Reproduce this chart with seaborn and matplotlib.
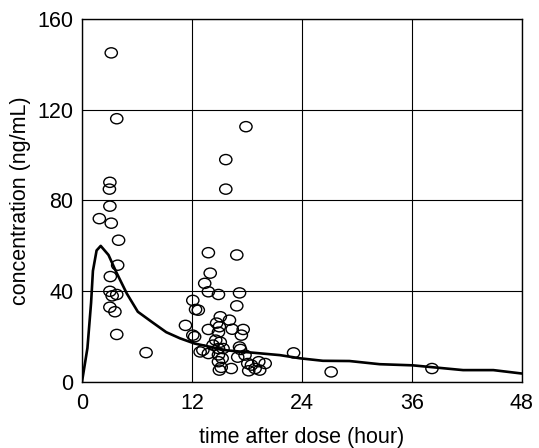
import numpy as np
import pandas as pd
import seaborn as sns
import matplotlib.pyplot as plt
from matplotlib.path import Path
from matplotlib.markers import MarkerStyle
from matplotlib.transforms import Affine2D

# observed concentrations (time in hour, concentration in ng/mL)
obs_time = [3.2, 3.8, 3.05, 3.0, 3.05, 1.9, 3.2, 4.0, 3.9, 3.1, 3.05, 3.8, 3.3, 3.05, 3.6, 3.8, 7.0,
            17.9, 15.7, 15.7, 23.1, 27.2, 38.2,
            13.8, 16.9, 14.0, 13.4, 13.8, 14.9, 17.2, 12.1, 16.9, 12.7, 12.4, 11.3, 12.1, 12.3,
            15.1, 16.1, 15.0, 13.8, 16.4, 17.6, 17.4, 14.9, 13.2, 13.8, 14.3, 14.9, 15.4, 17.2,
            17.3, 14.9, 15.0, 16.3, 18.1, 18.5, 18.9, 19.4, 20.0, 17.8, 19.3, 14.9, 15.1, 12.9,
            15.2, 14.6, 17.0, 18.2, 15.3, 14.7]
obs_conc = [145, 116, 88, 85, 77.5, 72, 70, 62.5, 51.5, 46.5, 40, 38.6, 38, 33, 31, 21, 13,
            112.5, 98, 85, 12.9, 4.5, 6,
            57, 56, 48, 43.5, 39.8, 38.6, 39.3, 36, 33.6, 31.7, 32, 25, 20.7, 20,
            28.8, 27.3, 24.4, 23.2, 23.3, 23.2, 20.7, 22, 14.1, 12.6, 16.3, 14.8, 14.8, 15.5,
            14.4, 9, 5.3, 6, 8.2, 7.5, 6, 5.3, 8.2, 11.9, 9, 12, 17.6, 13.3,
            6.5, 18.5, 11, 5, 10.5, 26]

# fitted curve
fit_time = [0, 0.6, 1.0, 1.2, 1.6, 2.05, 2.9, 3.8, 4.9, 6.1, 7.6, 9.2, 10.7, 12.3, 15.8,
            19.4, 21.6, 23.8, 26.3, 29.2, 32.5, 36.1, 41.6, 44.9, 48]
fit_conc = [0, 15, 35, 49, 58, 60, 56, 48, 39, 31, 26.6, 22, 19.3, 17, 14,
            12.7, 11.9, 10.5, 9.4, 9.3, 7.9, 7.4, 5.3, 5.3, 3.8]

obs = pd.DataFrame({"time": obs_time, "conc": obs_conc})
fit = pd.DataFrame({"time": fit_time, "conc": fit_conc})

sns.set_theme(style="white")
plt.rcParams['font.family'] = ['Liberation Sans', 'DejaVu Sans']

# slightly flattened open circle
ell = Path.unit_circle().transformed(Affine2D().scale(1.0, 0.83))
marker = MarkerStyle(ell)

fig = plt.figure(figsize=(5.39, 4.48), dpi=100)
ax = fig.add_axes([0.152, 0.147, 0.816, 0.811])

sns.lineplot(data=fit, x="time", y="conc", ax=ax, color="black", linewidth=1.9, zorder=3)
sns.scatterplot(data=obs, x="time", y="conc", ax=ax, marker=marker, s=78,
                facecolor="none", edgecolor="black", linewidth=1.0, zorder=4)

ax.set_xlim(0, 48)
ax.set_ylim(0, 160)
ax.set_xticks([0, 12, 24, 36, 48])
ax.set_yticks([0, 40, 80, 120, 160])
ax.grid(True, color="black", linewidth=0.8)
ax.set_axisbelow(True)
for s in ax.spines.values():
    s.set_color("black")
    s.set_linewidth(1.0)
ax.tick_params(labelsize=15.5, length=0, colors="black")
ax.tick_params(axis="x", pad=8)
ax.tick_params(axis="y", pad=6)
ax.set_xlabel("time after dose (hour)", fontsize=15.5, color="black", labelpad=9)
ax.set_ylabel("concentration (ng/mL)", fontsize=15.5, color="black", labelpad=5)

fig.savefig("out.png", dpi=100)
